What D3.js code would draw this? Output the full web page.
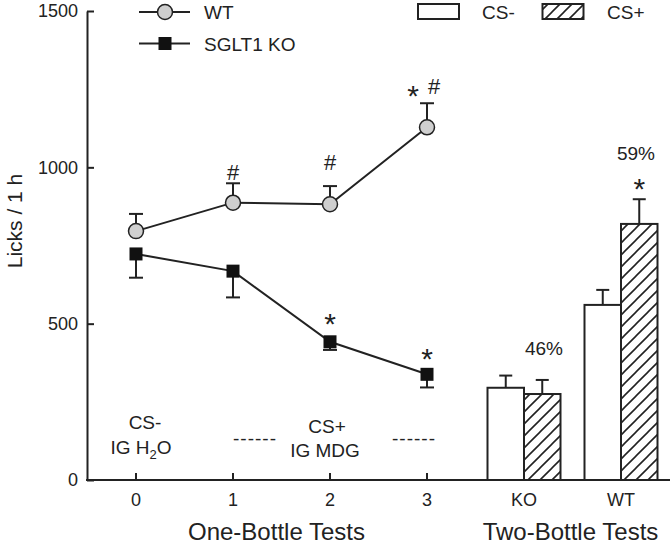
<!DOCTYPE html>
<html><head><meta charset="utf-8">
<script src="https://cdn.jsdelivr.net/npm/d3@7"></script>
<style>
html,body{margin:0;padding:0;background:#fff;}
text{font-family:"Liberation Sans",Arial,sans-serif;fill:#222;}
</style></head>
<body><svg id="c" width="670" height="547"></svg>
<script>
// ---- data ----
const testDays = [0, 1, 2, 3];
const wtMean = [796, 887, 882, 1128];
const wtSem  = [55, 62, 58, 77];
const koMean = [723, 668, 442, 338];
const koSem  = [76, 84, 26, 42];

const groups = ["KO", "WT"];
const stimuli = ["CS-", "CS+"];
const csMinus = [295, 560];
const csMinusSem = [39, 48];
const csPlus = [275, 819];
const csPlusSem = [45, 79];
const pctLabels = ["46%", "59%"];
const pctLevels = [400, 1023];

const yTicks = [0, 500, 1000, 1500];
// annotation symbols: [day, level, text, x offset]
const wtSig = [[1, 959, "#", 0], [2, 991, "#", 0], [3, 1234, "#", 7]];
const stars = [[3, 1199, "*", -14], [2, 470, "*", 0], [3, 358, "*", 0]];

// ---- scales ----
const svg = d3.select("#c");
const y = d3.scaleLinear().domain([0, 1500]).range([480, 11]);
const x = d3.scaleLinear().domain([0, 3]).range([136, 427]);
const xg = d3.scalePoint().domain(groups).range([524, 621]);
const xb = d3.scaleBand().domain(stimuli).range([-36.5, 36.5]);
const ink = "#222";

// hatch pattern
const defs = svg.append("defs");
const pat = defs.append("pattern").attr("id", "hatch").attr("patternUnits", "userSpaceOnUse")
  .attr("width", 12).attr("height", 12);
pat.append("rect").attr("width", 12).attr("height", 12).attr("fill", "#fff");
pat.append("path").attr("d", "M-3,3 L3,-3 M0,12 L12,0 M9,15 L15,9")
  .attr("stroke", ink).attr("stroke-width", 1.6);

// ---- y axis ----
const yAxis = d3.axisLeft(y).tickValues(yTicks).tickFormat(d3.format("d"))
  .tickSizeInner(-7).tickSizeOuter(0).tickPadding(9);
const ga = svg.append("g").attr("transform", "translate(87,0)").call(yAxis);
ga.select(".domain").attr("stroke", ink).attr("stroke-width", 2);
ga.selectAll(".tick line").attr("stroke", ink).attr("stroke-width", 2);
ga.selectAll(".tick text").attr("font-size", 18).attr("fill", ink)
  .style("font-family", "'Liberation Sans',Arial,sans-serif");

// ---- x axis baseline ----
svg.append("line").attr("x1", 86).attr("x2", 670).attr("y1", y(0)).attr("y2", y(0))
  .attr("stroke", ink).attr("stroke-width", 2);
svg.selectAll(".xt").data(testDays).join("line").attr("class", "xt")
  .attr("x1", d => x(d)).attr("x2", d => x(d)).attr("y1", y(0)).attr("y2", y(0) - 7)
  .attr("stroke", ink).attr("stroke-width", 2);
svg.selectAll(".xl").data(testDays).join("text").attr("class", "xl")
  .attr("x", d => x(d)).attr("y", y(0) + 26).attr("text-anchor", "middle").attr("font-size", 18)
  .text(d => d);
svg.selectAll(".gl").data(groups).join("text").attr("class", "gl")
  .attr("x", d => xg(d)).attr("y", y(0) + 26).attr("text-anchor", "middle").attr("font-size", 18)
  .text(d => d);

svg.append("text").attr("x", 276.5).attr("y", 540).attr("text-anchor", "middle")
  .attr("font-size", 24).text("One-Bottle Tests");
svg.append("text").attr("x", 570.5).attr("y", 540).attr("text-anchor", "middle")
  .attr("font-size", 24).text("Two-Bottle Tests");
svg.append("text").attr("transform", "translate(22,221) rotate(-90)").attr("text-anchor", "middle")
  .attr("font-size", 21).text("Licks / 1 h");

// ---- lines ----
const line = d3.line().x((d, i) => x(testDays[i])).y(d => y(d));
function errBars(mean, sem, dir) {
  const g = svg.append("g");
  mean.forEach((m, i) => {
    const ye = y(m + dir * sem[i]);
    g.append("line").attr("x1", x(testDays[i])).attr("x2", x(testDays[i]))
      .attr("y1", y(m)).attr("y2", ye).attr("stroke", ink).attr("stroke-width", 2);
    g.append("line").attr("x1", x(testDays[i]) - 7).attr("x2", x(testDays[i]) + 7)
      .attr("y1", ye).attr("y2", ye).attr("stroke", ink).attr("stroke-width", 2);
  });
}
errBars(wtMean, wtSem, 1);
errBars(koMean, koSem, -1);
svg.append("path").datum(wtMean).attr("d", line).attr("fill", "none").attr("stroke", ink).attr("stroke-width", 2);
svg.append("path").datum(koMean).attr("d", line).attr("fill", "none").attr("stroke", ink).attr("stroke-width", 2);
svg.selectAll(".wtp").data(wtMean).join("circle").attr("class", "wtp")
  .attr("cx", (d, i) => x(testDays[i])).attr("cy", d => y(d)).attr("r", 7.5)
  .attr("fill", "#cfcfcf").attr("stroke", ink).attr("stroke-width", 1.5);
svg.selectAll(".kop").data(koMean).join("rect").attr("class", "kop")
  .attr("x", (d, i) => x(testDays[i]) - 6.5).attr("y", d => y(d) - 6.5)
  .attr("width", 13).attr("height", 13).attr("fill", "#111");

// ---- bars ----
const barData = [];
groups.forEach((g, i) => {
  barData.push({g, s: "CS-", v: csMinus[i], e: csMinusSem[i]});
  barData.push({g, s: "CS+", v: csPlus[i], e: csPlusSem[i]});
});
const bg = svg.append("g");
barData.forEach(d => {
  const cx = xg(d.g) + xb(d.s) + xb.bandwidth() / 2;
  bg.append("line").attr("x1", cx).attr("x2", cx).attr("y1", y(d.v)).attr("y2", y(d.v + d.e))
    .attr("stroke", ink).attr("stroke-width", 2);
  bg.append("line").attr("x1", cx - 6.5).attr("x2", cx + 6.5).attr("y1", y(d.v + d.e)).attr("y2", y(d.v + d.e))
    .attr("stroke", ink).attr("stroke-width", 2);
  bg.append("rect").attr("x", xg(d.g) + xb(d.s)).attr("y", y(d.v))
    .attr("width", xb.bandwidth()).attr("height", y(0) - y(d.v))
    .attr("fill", d.s === "CS+" ? "url(#hatch)" : "#fff")
    .attr("stroke", ink).attr("stroke-width", 2);
});

svg.selectAll(".pct").data(pctLabels).join("text").attr("class", "pct")
  .attr("x", (d, i) => xg(groups[i]) + (i === 0 ? 20 : 15)).attr("y", (d, i) => y(pctLevels[i]))
  .attr("text-anchor", "middle").attr("font-size", 19).text(d => d);

// ---- significance marks ----
wtSig.forEach(a => svg.append("text").attr("x", x(a[0]) + a[3]).attr("y", y(a[1]))
  .attr("text-anchor", "middle").attr("font-size", 22).text(a[2]));
stars.forEach(a => svg.append("text").attr("x", x(a[0]) + a[3]).attr("y", y(a[1]) + 1)
  .attr("text-anchor", "middle").attr("font-size", 30).text(a[2]));
svg.append("text").attr("x", xg("WT") + xb("CS+") + xb.bandwidth() / 2).attr("y", y(902) + 1)
  .attr("text-anchor", "middle").attr("font-size", 30).text("*");

// ---- condition labels ----
svg.append("text").attr("x", x(0) + 9).attr("y", 428.5).attr("text-anchor", "middle").attr("font-size", 19).text("CS-");
const h2o = svg.append("text").attr("x", x(0) + 5).attr("y", 453.5).attr("text-anchor", "middle").attr("font-size", 19);
h2o.append("tspan").text("IG H");
h2o.append("tspan").attr("font-size", 13).attr("dy", 5).text("2");
h2o.append("tspan").attr("dy", -5).text("O");
svg.append("text").attr("x", x(2) - 3).attr("y", 432.8).attr("text-anchor", "middle").attr("font-size", 19).text("CS+");
svg.append("text").attr("x", x(2) - 5).attr("y", 457).attr("text-anchor", "middle").attr("font-size", 19).text("IG MDG");
svg.append("text").attr("x", x(1)).attr("y", 445).attr("text-anchor", "start")
  .attr("font-size", 19).attr("textLength", 43).attr("lengthAdjust", "spacing").text("------");
svg.append("text").attr("x", x(3) - 35).attr("y", 445).attr("text-anchor", "start")
  .attr("font-size", 19).attr("textLength", 43).attr("lengthAdjust", "spacing").text("------");

// ---- legends ----
const lg = svg.append("g");
[[12, "WT"], [43.5, "SGLT1 KO"]].forEach((r, i) => {
  lg.append("line").attr("x1", 139).attr("x2", 190).attr("y1", r[0]).attr("y2", r[0])
    .attr("stroke", ink).attr("stroke-width", 2);
  if (i === 0) lg.append("circle").attr("cx", 165).attr("cy", r[0]).attr("r", 7.5)
    .attr("fill", "#cfcfcf").attr("stroke", ink).attr("stroke-width", 1.5);
  else lg.append("rect").attr("x", 158.5).attr("y", r[0] - 6.5).attr("width", 13).attr("height", 13).attr("fill", "#111");
  lg.append("text").attr("x", 204).attr("y", r[0] + 7).attr("font-size", 19).text(r[1]);
});
[[418, 482, "CS-"], [542.5, 607, "CS+"]].forEach((r, i) => {
  lg.append("rect").attr("x", r[0]).attr("y", 4).attr("width", 41).attr("height", 15)
    .attr("fill", i ? "url(#hatch)" : "#fff").attr("stroke", ink).attr("stroke-width", 2);
  lg.append("text").attr("x", r[1]).attr("y", 19).attr("font-size", 19).text(r[2]);
});
</script></body></html>
